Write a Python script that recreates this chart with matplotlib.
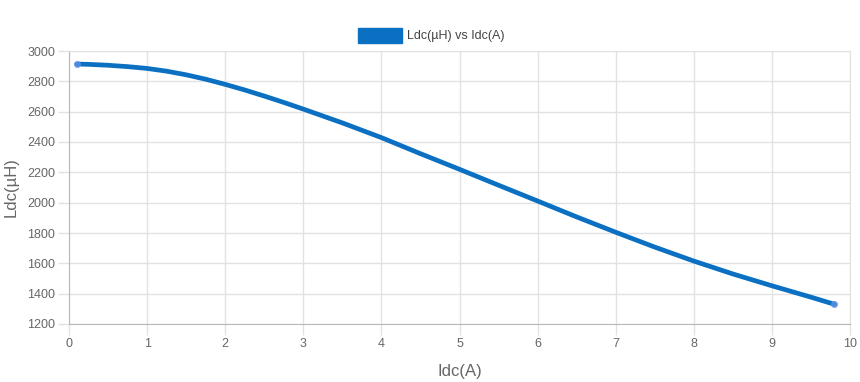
import matplotlib
matplotlib.use("Agg")
import matplotlib.pyplot as plt
from matplotlib.patches import Rectangle

plt.rcParams["font.family"] = ["Liberation Sans", "DejaVu Sans"]

# Idc(A) vs Ldc(uH)
idc = [0.1, 0.25, 0.5, 0.75, 1.0, 1.25, 1.5, 1.75, 2.0, 2.25, 2.5, 2.75,
       3.0, 3.5, 4.0, 4.5, 5.0, 5.5, 6.0, 6.5, 7.0, 7.5, 8.0, 8.5,
       9.0, 9.5, 9.8]
ldc = [2914, 2912, 2906, 2897, 2885, 2867, 2843, 2814, 2780, 2743, 2703, 2661,
       2617, 2526, 2429, 2323, 2220, 2115, 2011, 1906, 1805, 1707, 1615, 1530,
       1452, 1377, 1330]

x_ticks = list(range(0, 11))
y_ticks = list(range(1200, 3001, 200))
series_label = "Ldc(\u00b5H) vs Idc(A)"

LINE = "#0b70c2"
GRID = "#e2e2e2"
TXT = "#666666"

fig = plt.figure(figsize=(8.6, 3.82), dpi=100)
ax = fig.add_axes([69 / 860, 1 - 324 / 382, (850 - 69) / 860, (324 - 51) / 382])

ax.plot(idc, ldc, color=LINE, lw=3.4, solid_capstyle="round",
        solid_joinstyle="round", zorder=3)
ax.plot([idc[0], idc[-1]], [ldc[0], ldc[-1]], "o", ms=4,
        mfc="#5b8fe6", mec="#5b8fe6", alpha=0.8, zorder=4)

ax.set_xlim(0, 10)
ax.set_ylim(1200, 3000)
ax.set_xticks(x_ticks)
ax.set_yticks(y_ticks)
ax.grid(True, color=GRID, lw=1)
ax.set_axisbelow(True)
for s in ["top", "right"]:
    ax.spines[s].set_color(GRID)
for s in ["left", "bottom"]:
    ax.spines[s].set_color("#b8b8b8")
ax.tick_params(axis="both", colors=GRID, length=8, width=1,
               labelcolor=TXT, labelsize=9, pad=2)

ax.set_xlabel("Idc(A)", fontsize=12, color=TXT, labelpad=10)
ax.set_ylabel("Ldc(\u00b5H)", fontsize=12, color=TXT, labelpad=6)

# legend, drawn chart.js style above the plot
fig.patches.append(Rectangle((358 / 860, 1 - 43 / 382), 44 / 860, 15 / 382,
                             transform=fig.transFigure, color=LINE))
fig.text(407 / 860, 1 - 35.5 / 382, series_label, fontsize=9,
         color="#444444", va="center", ha="left")

fig.savefig("out.png", dpi=100)
